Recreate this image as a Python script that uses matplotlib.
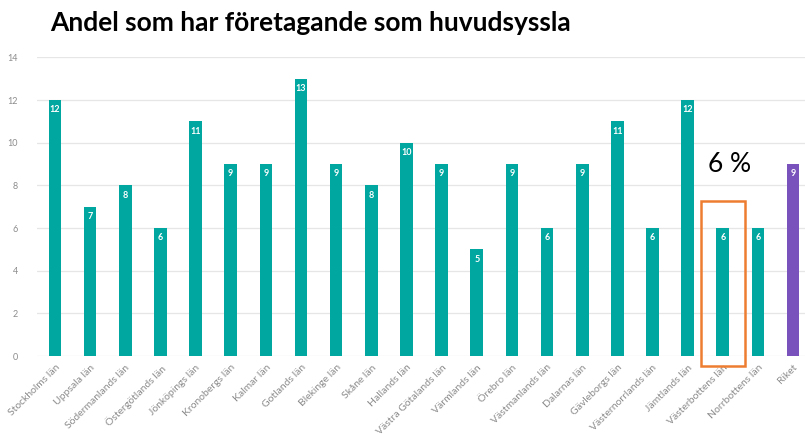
import matplotlib.pyplot as plt
import matplotlib.patches as patches
import numpy as np

# Data
lan = ['Stockholms län', 'Uppsala län', 'Södermanlands län', 'Östergötlands län',
       'Jönköpings län', 'Kronobergs län', 'Kalmar län', 'Gotlands län',
       'Blekinge län', 'Skåne län', 'Hallands län', 'Västra Götalands län',
       'Värmlands län', 'Örebro län', 'Västmanlands län', 'Dalarnas län',
       'Gävleborgs län', 'Västernorrlands län', 'Jämtlands län',
       'Västerbottens län', 'Norrbottens län', 'Riket']
andel = [12, 7, 8, 6, 11, 9, 9, 13, 9, 8, 10, 9, 5, 9, 6, 9, 11, 6, 12, 6, 6, 9]
markerad = 'Västerbottens län'
markerad_text = '6 %'

plt.rcParams['font.family'] = ['Lato', 'DejaVu Sans']

fig = plt.figure(figsize=(8.05, 4.34), dpi=100)
ax = fig.add_axes([0.0465, 0.1797, 0.9605, 0.688])

x = np.arange(len(lan))
farger = ['#00A6A0'] * (len(lan) - 1) + ['#7952BC']
staplar = ax.bar(x, andel, width=0.36, color=farger, zorder=3)

# Värden i staplarna
for rect, v in zip(staplar, andel):
    ax.text(rect.get_x() + rect.get_width() / 2, v - 0.25, str(v),
            ha='center', va='top', color='white', fontsize=6.5, fontweight='bold', zorder=4)

ax.set_xlim(-0.5, len(lan) - 0.5)
ax.set_ylim(0, 14)
ax.set_yticks(range(0, 15, 2))
ax.grid(axis='y', color='#E6E6E6', linewidth=0.9, zorder=0)
for s in ax.spines.values():
    s.set_visible(False)
ax.tick_params(axis='both', length=0, colors='#8C8C8C', labelsize=6.5)
ax.tick_params(axis='y', pad=14)
ax.tick_params(axis='x', pad=5)
ax.set_xticks(x)
ax.set_xticklabels(lan, rotation=45, ha='right', rotation_mode='anchor', fontsize=7.5)

# Orange ram runt Västerbotten
i = lan.index(markerad)
ram = patches.Rectangle((i - 0.62, -0.45), 1.24, 7.7, fill=False, edgecolor='#ED7D31',
                        linewidth=1.8, clip_on=False, zorder=5)
ax.add_patch(ram)
ax.text(i + 0.2, 9.0, markerad_text, ha='center', va='center', fontsize=19, color='black')

fig.text(0.062, 0.948, 'Andel som har företagande som huvudsyssla', fontsize=19,
         fontweight='bold', ha='left', va='center', color='black')

fig.savefig('out.png', dpi=100)
